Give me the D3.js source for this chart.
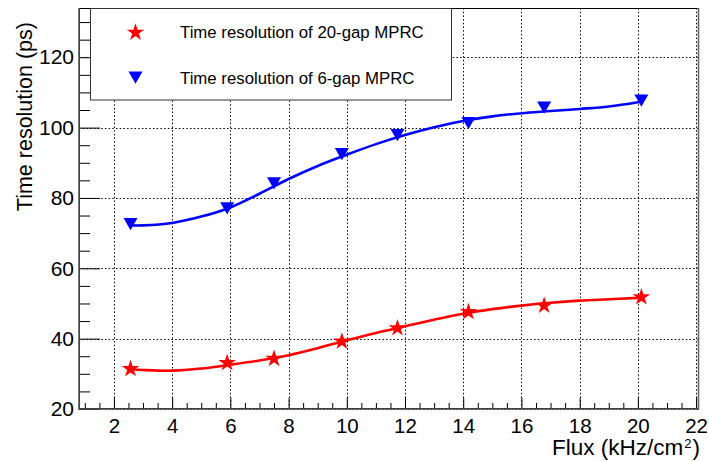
<!DOCTYPE html>
<html>
<head>
<meta charset="utf-8">
<script src="https://cdn.jsdelivr.net/npm/d3@7"></script>
<style>
  html, body { margin: 0; padding: 0; background: #fff; }
  svg { display: block; font-family: "Liberation Sans", Arial, Helvetica, sans-serif; }
</style>
</head>
<body>
<svg id="chart" width="709" height="461"></svg>
<script>
// ---- data ----
const fluxValues = [2.57, 5.89, 7.5, 9.83, 11.74, 14.18, 16.78, 20.12];
const res20gap = [31.4, 33.1, 34.3, 39.2, 43.0, 47.6, 49.4, 51.8];
const res6gap = [72.6, 77.1, 84.2, 92.5, 97.9, 101.3, 105.7, 107.7];

// fitted curves
const fit20X = [2.6, 3, 4, 5, 6, 7, 8, 9, 10, 11, 12, 13, 14, 15, 16, 17, 18, 19, 20, 20.2];
const fit20Y = [31.3, 31.1, 30.9, 31.5, 32.6, 33.8, 35.3, 37.3, 39.5, 41.6, 43.5, 45.4, 47.1, 48.4, 49.4, 50.2, 50.8, 51.2, 51.6, 51.7];
const fit6X = [2.6, 3, 4, 5, 6, 7, 8, 9, 10, 11, 12, 13, 14, 15, 16, 17, 18, 19, 20, 20.2];
const fit6Y = [72.2, 72.2, 72.9, 74.7, 77.3, 81.2, 85.4, 89.1, 92.3, 95.3, 97.9, 100.1, 101.9, 103.2, 104.1, 104.7, 105.3, 106.0, 107.2, 107.5];

const xMajorTicks = [2, 4, 6, 8, 10, 12, 14, 16, 18, 20, 22];
const yMajorTicks = [20, 40, 60, 80, 100, 120];
const legendLabels = ["Time resolution of 20-gap MPRC", "Time resolution of 6-gap MPRC"];

// ---- layout ----
const pL = 79, pR = 699, pT = 8, pB = 409;

const svg = d3.select("#chart");
const x = d3.scaleLinear().domain([0.8, 22.1]).range([pL, pR]);
const y = d3.scaleLinear().domain([20, 134]).range([pB, pT]);

const xMinor = d3.range(1, 22.01, 0.5).filter(v => xMajorTicks.indexOf(v) < 0);
const yMinor = d3.range(20, 134, 5).filter(v => yMajorTicks.indexOf(v) < 0);

// grid
const grid = svg.append("g").attr("stroke", "#000").attr("stroke-width", 1).attr("stroke-dasharray", "1.5,2.2");
grid.selectAll("line.gx").data(xMajorTicks).enter().append("line")
  .attr("x1", d => Math.round(x(d)) + 0.5).attr("x2", d => Math.round(x(d)) + 0.5)
  .attr("y1", pT).attr("y2", pB);
grid.selectAll("line.gy").data(yMajorTicks).enter().append("line")
  .attr("y1", d => Math.round(y(d)) + 0.5).attr("y2", d => Math.round(y(d)) + 0.5)
  .attr("x1", pL).attr("x2", pR);

// axes
const xAxis = d3.axisBottom(x).tickValues(xMajorTicks).tickSize(-11).tickPadding(9).tickFormat(d3.format("d"));
const xAxisMinor = d3.axisBottom(x).tickValues(xMinor).tickSize(-6).tickFormat("");
const yAxis = d3.axisLeft(y).tickValues(yMajorTicks).tickSize(-21).tickPadding(5).tickFormat(d3.format("d"));
const yAxisMinor = d3.axisLeft(y).tickValues(yMinor).tickSize(-11).tickFormat("");

function styleAxis(g, fs) {
  g.select(".domain").remove();
  g.selectAll(".tick line").attr("stroke", "#000").attr("stroke-width", 1);
  g.selectAll("text").attr("fill", "#000").style("font-size", fs + "px")
    .style("font-family", '"Liberation Sans", Arial, sans-serif');
}
svg.append("g").attr("transform", `translate(0,${pB})`).call(xAxisMinor).call(g => styleAxis(g, 20.5));
svg.append("g").attr("transform", `translate(0,${pB})`).call(xAxis).call(g => styleAxis(g, 20.5));
svg.append("g").attr("transform", `translate(${pL},0)`).call(yAxisMinor).call(g => styleAxis(g, 21));
svg.append("g").attr("transform", `translate(${pL},0)`).call(yAxis).call(g => styleAxis(g, 21));

// frame
svg.append("rect").attr("x", pL + 0.5).attr("y", pT + 0.5).attr("width", pR - pL - 1).attr("height", pB - pT - 1)
  .attr("fill", "none").attr("stroke", "#000").attr("stroke-width", 1);
svg.append("line").attr("x1", pL).attr("x2", pL).attr("y1", pT).attr("y2", pB + 1)
  .attr("stroke", "#555").attr("stroke-width", 1.6);
svg.append("line").attr("x1", pL).attr("x2", pR).attr("y1", pB).attr("y2", pB)
  .attr("stroke", "#555").attr("stroke-width", 1.6);
svg.append("line").attr("x1", pR - 0.5).attr("x2", pR - 0.5).attr("y1", pT).attr("y2", pB)
  .attr("stroke", "#666").attr("stroke-width", 1.6);

// fit curves
const line = d3.line().x(d => x(d[0])).y(d => y(d[1])).curve(d3.curveCatmullRom.alpha(0.5));
svg.append("path").datum(d3.zip(fit20X, fit20Y)).attr("d", line)
  .attr("fill", "none").attr("stroke", "#ff0000").attr("stroke-width", 2.6);
svg.append("path").datum(d3.zip(fit6X, fit6Y)).attr("d", line)
  .attr("fill", "none").attr("stroke", "#0000ff").attr("stroke-width", 2.6);

// markers
const starPath = d3.symbol().type(d3.symbolStar).size(95)();
const triPath = "M-7,-6 L7,-6 L0,6.3 Z";
svg.append("g").selectAll("path").data(d3.zip(fluxValues, res20gap)).enter().append("path")
  .attr("d", starPath).attr("transform", d => `translate(${x(d[0])},${y(d[1])})`)
  .attr("fill", "#ff0000");
svg.append("g").selectAll("path").data(d3.zip(fluxValues, res6gap)).enter().append("path")
  .attr("d", triPath).attr("transform", d => `translate(${x(d[0])},${y(d[1])})`)
  .attr("fill", "#0000ff");

// legend
const leg = svg.append("g");
leg.append("rect").attr("x", 90.5).attr("y", 8.5).attr("width", 361).attr("height", 91.5)
  .attr("fill", "#fff").attr("stroke", "#333").attr("stroke-width", 1);
leg.append("path").attr("d", starPath).attr("transform", "translate(135.5,32.5)").attr("fill", "#ff0000");
leg.append("path").attr("d", triPath).attr("transform", "translate(135.5,77.5)").attr("fill", "#0000ff");
leg.selectAll("text").data(legendLabels).enter().append("text")
  .attr("x", 180).attr("y", (d, i) => i === 0 ? 38 : 84)
  .style("font-size", "16.8px").attr("fill", "#000").text(d => d);

// axis titles
svg.append("text").attr("transform", "translate(32,22) rotate(-90)")
  .attr("text-anchor", "end").style("font-size", "21.5px").attr("fill", "#000")
  .text("Time resolution (ps)");
const xt = svg.append("text").attr("x", 700).attr("y", 455).attr("text-anchor", "end")
  .style("font-size", "22.5px").attr("fill", "#000");
xt.append("tspan").text("Flux (kHz/cm");
xt.append("tspan").attr("dy", -7).attr("dx", 1).style("font-size", "13px").text("2");
xt.append("tspan").attr("dy", 7).attr("dx", 1).text(")");
</script>
</body>
</html>
